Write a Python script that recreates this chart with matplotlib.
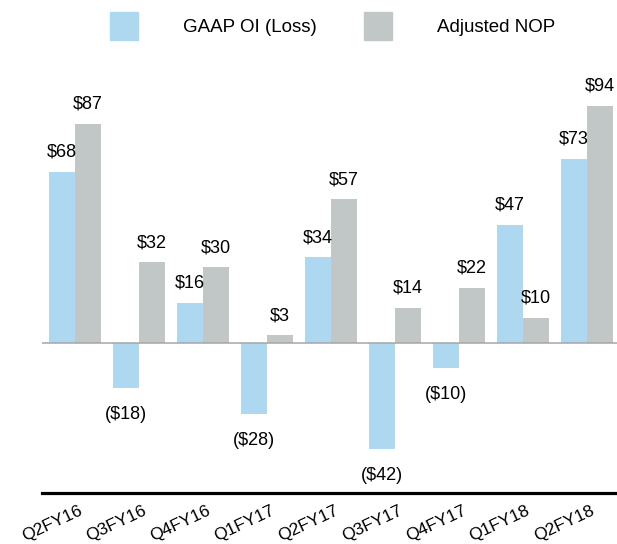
import numpy as np
import matplotlib
matplotlib.use("Agg")
import matplotlib.pyplot as plt
import matplotlib.transforms as mtransforms
from matplotlib.patches import Patch

plt.rcParams["font.family"] = ["Liberation Sans", "DejaVu Sans"]

BLUE = "#AED8F0"
GREY = "#C1C6C6"

quarters = ["Q2FY16", "Q3FY16", "Q4FY16", "Q1FY17", "Q2FY17",
            "Q3FY17", "Q4FY17", "Q1FY18", "Q2FY18"]
gaap_oi = [68, -18, 16, -28, 34, -42, -10, 47, 73]
adjusted_nop = [87, 32, 30, 3, 57, 14, 22, 10, 94]


def money(v):
    return f"(${abs(v)})" if v < 0 else f"${v}"


fig = plt.figure(figsize=(6.17, 5.44), dpi=100)
ax = fig.add_axes([0.0681, 0.09375, 0.9319, 0.7960])

x = np.arange(len(quarters))
w = 0.4
b1 = ax.bar(x - w/2, gaap_oi, w, color=BLUE, zorder=2)
b2 = ax.bar(x + w/2, adjusted_nop, w, color=GREY, zorder=2)

FS = 13
for bars, vals in [(b1, gaap_oi), (b2, adjusted_nop)]:
    for b, v in zip(bars, vals):
        cx = b.get_x() + b.get_width()/2
        if v >= 0:
            ax.annotate(money(v), (cx, v), xytext=(0, 8), textcoords="offset points",
                        ha="center", va="bottom", fontsize=FS)
        else:
            ax.annotate(money(v), (cx, v), xytext=(0, -13), textcoords="offset points",
                        ha="center", va="top", fontsize=FS)

ax.axhline(0, color="#A6A6A6", lw=1.1, zorder=3)
ax.set_xlim(-0.516, 8.47)
ax.set_ylim(-59.5, 112.3)
ax.set_yticks([])
ax.set_xticks(x)
ax.set_xticklabels(quarters, rotation=25, ha="right", va="top",
                   rotation_mode="anchor", fontsize=12.5)
ax.tick_params(axis="x", length=0, pad=7)
shift = mtransforms.ScaledTranslation(3/100, 0, fig.dpi_scale_trans)
for lbl in ax.get_xticklabels():
    lbl.set_transform(lbl.get_transform() + shift)
for s in ["top", "right", "left"]:
    ax.spines[s].set_visible(False)
ax.spines["bottom"].set_linewidth(2.3)
ax.spines["bottom"].set_color("black")

handles = [Patch(color=BLUE, label="GAAP OI (Loss)"),
           Patch(color=GREY, label="Adjusted NOP")]
fig.legend(handles=handles, loc="upper left", bbox_to_anchor=(110/617, 1 - 12/544),
           ncol=2, frameon=False, fontsize=13.5, borderpad=0, borderaxespad=0,
           handlelength=1.5, handleheight=1.9, handletextpad=2.4, columnspacing=2.5)

fig.savefig("out.png", dpi=100)
